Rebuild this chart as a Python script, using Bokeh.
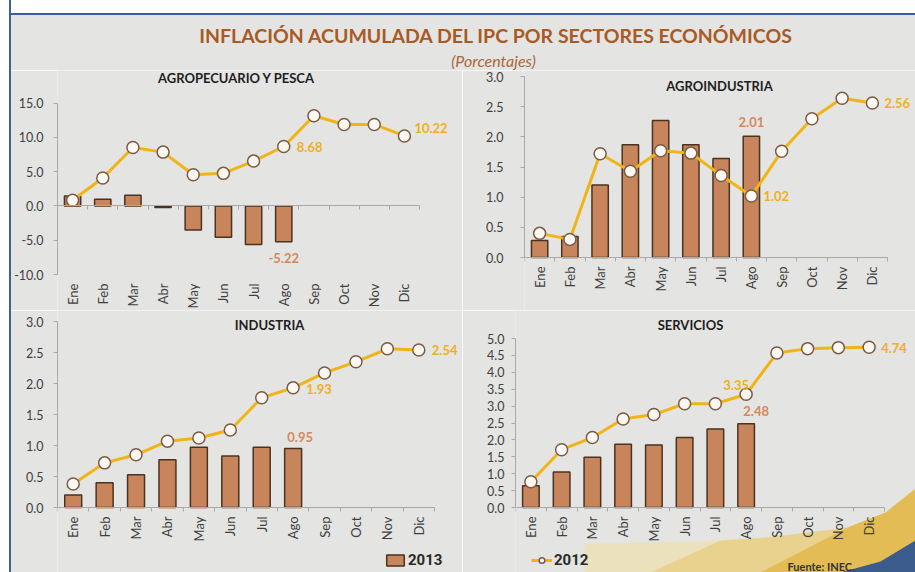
import math
from bokeh.plotting import figure
from bokeh.models import (Range1d, LinearAxis, FixedTicker, NumeralTickFormatter,
                          CustomJSTickFormatter, Label, Legend, LegendItem, PolyAnnotation,
                          InlineStyleSheet)
from bokeh.layouts import column, row
from bokeh.embed import file_html
from bokeh.resources import INLINE

# ---------------- data ----------------
months = ["Ene", "Feb", "Mar", "Abr", "May", "Jun", "Jul", "Ago", "Sep", "Oct", "Nov", "Dic"]

agro_2013 = [1.46, 0.97, 1.55, -0.24, -3.50, -4.56, -5.63, -5.22]
agro_2012 = [0.83, 4.08, 8.54, 7.86, 4.56, 4.76, 6.55, 8.68, 13.16, 11.90, 11.90, 10.22]

agroind_2013 = [0.28, 0.35, 1.20, 1.87, 2.27, 1.87, 1.64, 2.01]
agroind_2012 = [0.40, 0.30, 1.72, 1.43, 1.77, 1.73, 1.36, 1.02, 1.76, 2.30, 2.64, 2.56]

ind_2013 = [0.20, 0.40, 0.53, 0.77, 0.97, 0.83, 0.97, 0.95]
ind_2012 = [0.38, 0.72, 0.85, 1.07, 1.12, 1.25, 1.77, 1.93, 2.17, 2.35, 2.56, 2.54]

serv_2013 = [0.64, 1.05, 1.49, 1.87, 1.85, 2.07, 2.32, 2.48]
serv_2012 = [0.76, 1.71, 2.07, 2.62, 2.75, 3.07, 3.07, 3.35, 4.57, 4.70, 4.73, 4.74]

agro_ticks = [-10, -5, 0, 5, 10, 15]
agroind_ticks = [0, 0.5, 1.0, 1.5, 2.0, 2.5, 3.0]
ind_ticks = [0, 0.5, 1.0, 1.5, 2.0, 2.5, 3.0]
serv_ticks = [0, 0.5, 1.0, 1.5, 2.0, 2.5, 3.0, 3.5, 4.0, 4.5, 5.0]

series_names = ["2013", "2012"]
TITLE = "INFLACIÓN ACUMULADA DEL IPC POR SECTORES ECONÓMICOS"
SUBTITLE = "(Porcentajes)"
SOURCE = "Fuente: INEC."

# ---------------- style ----------------
BG = "#e4e4e2"
AXC = "#a9a9a9"
TICKC = "#3f3f3f"
BAR_FILL = "#c8845a"
BAR_LINE = "#4a3322"
GOLD = "#f0b416"
MK_FILL = "#fbf8f3"
MK_LINE = "#7a5c44"
LBL_GOLD = "#efb01e"
LBL_BROWN = "#d4895a"
FONT = "Lato"
FRAME_BLUE = "#3d5e9a"

n = len(months)
xc = [i + 0.5 for i in range(n)]           # category centres on the x scale
bounds_x = list(range(n + 1))               # category boundaries (tick marks)

SPLIT = 462                                 # x where the right-hand column starts


def make_panel(title, bars, line, yticks, fig_box, axis_px, tick_px, ystandoff, title_px, labels):
    fx, fy, fw, fh = fig_box                 # figure box in page pixels
    ax0, ax1 = axis_px                      # x pixel of category axis start / end
    pt_top, pt_bot = tick_px                 # y pixel of top / bottom y tick
    unit_x = (ax1 - ax0) / n
    x_end = (fx + fw - ax0) / unit_x
    k = (pt_bot - pt_top) / (yticks[-1] - yticks[0])
    y_end = yticks[-1] + (pt_top - fy) / k
    y_start = yticks[0] - (fy + fh - pt_bot) / k

    p = figure(width=fw, height=fh, x_range=Range1d(0, x_end), y_range=Range1d(y_start, y_end),
               output_backend="svg", toolbar_location=None,
               x_axis_location=None, y_axis_location=None,
               min_border_left=ax0 - fx, min_border_right=0, min_border_top=0, min_border_bottom=0)
    p.background_fill_color = BG
    p.border_fill_color = BG
    p.outline_line_color = None
    p.xgrid.grid_line_color = None
    p.ygrid.grid_line_color = None

    yax = LinearAxis(ticker=FixedTicker(ticks=yticks), formatter=NumeralTickFormatter(format="0.0"),
                     bounds=(yticks[0], yticks[-1]),
                     axis_line_color=AXC, major_tick_line_color=AXC, major_tick_in=0,
                     major_tick_out=4, minor_tick_line_color=None,
                     major_label_standoff=ystandoff, major_label_text_font=FONT,
                     major_label_text_font_size="12.5px", major_label_text_color=TICKC)
    p.add_layout(yax, "left")

    mfmt = CustomJSTickFormatter(args=dict(months=months), code="return months[Math.floor(tick)]")
    xax = LinearAxis(fixed_location=yticks[0], ticker=FixedTicker(ticks=xc), formatter=mfmt,
                     axis_line_color=None, major_tick_line_color=None,
                     minor_tick_line_color=None, major_tick_in=0, major_tick_out=0,
                     major_label_orientation=math.pi / 2, major_label_standoff=9,
                     major_label_text_font=FONT, major_label_text_font_size="13px",
                     major_label_text_color=TICKC)
    p.add_layout(xax, "below")

    zax = LinearAxis(fixed_location=0, ticker=FixedTicker(ticks=bounds_x), bounds=(0, n),
                     axis_line_color=AXC, major_tick_line_color=AXC, major_tick_in=0,
                     major_tick_out=4, minor_tick_line_color=None,
                     major_label_text_font_size="0px", major_label_text_color=None)
    p.add_layout(zax, "below")

    rb = p.vbar(x=xc[:len(bars)], top=bars, width=0.54, fill_color=BAR_FILL,
                line_color=BAR_LINE, line_width=1.5)
    rl = p.line(x=xc, y=line, line_color=GOLD, line_width=3)
    rs = p.scatter(x=xc, y=line, size=12, fill_color=MK_FILL, line_color=MK_LINE, line_width=1.5)

    tx, ty = title_px
    p.add_layout(Label(x=tx - ax0, y=fy + fh - ty, x_units="screen", y_units="screen",
                       text=title, text_align="center", text_baseline="middle",
                       text_font=FONT, text_font_style="bold", text_font_size="13px",
                       text_color="#1e1e1e"))

    for series, idx, dx, dy, align, color in labels:
        p.add_layout(Label(x=xc[idx], y=series[idx], text=f"{series[idx]:.2f}",
                           x_offset=dx, y_offset=dy, text_align=align, text_baseline="middle",
                           text_font=FONT, text_font_style="bold", text_font_size="13px",
                           text_color=color))
    return p, rb, rl, rs


p1, *_ = make_panel("AGROPECUARIO Y PESCA", agro_2013, agro_2012, agro_ticks,
                    (0, 70, SPLIT, 240), (57, 419), (102.7, 274), 10, (236, 77),
                    [(agro_2012, 11, 10, 8, "left", LBL_GOLD),
                     (agro_2012, 7, 13, 0, "left", LBL_GOLD),
                     (agro_2013, 7, 0, -16, "center", LBL_BROWN)])

p2, *_ = make_panel("AGROINDUSTRIA", agroind_2013, agroind_2012, agroind_ticks,
                    (SPLIT, 70, 915 - SPLIT, 240), (524, 887), (76, 257), 17, (719, 85),
                    [(agroind_2013, 7, 0, 14, "center", LBL_BROWN),
                     (agroind_2012, 7, 12, 0, "left", LBL_GOLD),
                     (agroind_2012, 11, 12, 0, "left", LBL_GOLD)])

p3, rb3, _, _ = make_panel("INDUSTRIA", ind_2013, ind_2012, ind_ticks,
                           (0, 310, SPLIT, 262), (57, 434), (321, 507), 10, (269, 324),
                           [(ind_2013, 7, 7, 12, "center", LBL_BROWN),
                            (ind_2012, 7, 13, -1, "left", LBL_GOLD),
                            (ind_2012, 11, 13, 0, "left", LBL_GOLD)])

p4, _, rl4, rs4 = make_panel("SERVICIOS", serv_2013, serv_2012, serv_ticks,
                             (SPLIT, 310, 915 - SPLIT, 262), (515, 884), (338, 507), 7, (690, 324),
                             [(serv_2012, 7, -10, 9, "center", LBL_GOLD),
                              (serv_2013, 7, 10, 13, "center", LBL_BROWN),
                              (serv_2012, 11, 12, -1, "left", LBL_GOLD)])

# decorative gold swoosh and blue corner at the bottom right (screen units of the panel)
P4_LEFT, P4_BOTTOM = 515, 572
swoosh_layers = [
    ([(584, 543), (640, 542), (700, 541), (766, 537), (847, 527), (885, 512), (915, 488),
      (915, 572), (584, 572)], "#ece1bd", 1.0),
    ([(650, 572), (720, 540), (766, 537), (847, 527), (885, 512), (915, 488), (915, 572)],
     "#e6c666", 0.55),
    ([(760, 572), (847, 527), (885, 512), (915, 488), (915, 572)], "#dfae30", 0.6),
    ([(840, 572), (880, 561), (915, 540), (915, 572)], "#3b5b8c", 1.0),
]
for pts, col, alpha in swoosh_layers:
    p4.add_layout(PolyAnnotation(xs=[x - P4_LEFT for x, _ in pts], ys=[P4_BOTTOM - y for _, y in pts],
                                 xs_units="screen", ys_units="screen", fill_color=col,
                                 fill_alpha=alpha, line_color=None, level="underlay"))

# legends (split between the two bottom panels, as in the original)
leg_kw = dict(border_line_color=None, background_fill_alpha=0, padding=0, margin=0,
              spacing=0, label_standoff=2, label_text_font="Roboto",
              label_text_font_style="bold", label_text_font_size="15px",
              label_text_color="#2a2a2a", label_height=16, glyph_height=14)
p3.add_layout(Legend(items=[LegendItem(label=series_names[0], renderers=[rb3])],
                     location=(384 - 57, 3), glyph_width=22, **leg_kw))
p4.add_layout(Legend(items=[LegendItem(label=series_names[1], renderers=[rl4, rs4])],
                     location=(531 - P4_LEFT, 3), glyph_width=21, **leg_kw))
p4.add_layout(Label(x=787 - P4_LEFT, y=P4_BOTTOM - 566, x_units="screen", y_units="screen",
                    text=SOURCE, text_align="left", text_baseline="middle", text_font=FONT,
                    text_font_style="bold", text_font_size="11px", text_color="#333333"))

# header
header = figure(width=915, height=70, x_range=Range1d(0, 1), y_range=Range1d(0, 1),
                output_backend="svg", toolbar_location=None, x_axis_location=None,
                y_axis_location=None, min_border=0)
header.background_fill_color = BG
header.border_fill_color = BG
header.outline_line_color = None
header.xgrid.grid_line_color = None
header.ygrid.grid_line_color = None
header.add_layout(Label(x=496, y=70 - 35, x_units="screen", y_units="screen", text=TITLE,
                        text_align="center", text_baseline="middle", text_font=FONT,
                        text_font_style="bold", text_font_size="19.5px", text_color="#a85a25"))
header.add_layout(Label(x=493, y=70 - 60, x_units="screen", y_units="screen", text=SUBTITLE,
                        text_align="center", text_baseline="middle", text_font=FONT,
                        text_font_style="italic", text_font_size="16px", text_color="#a8683c"))

frame_css = InlineStyleSheet(css=f"""
:host {{ position: relative; }}
:host::before {{ content: ""; position: absolute; left: 0; top: 0; width: 100%; height: 13px;
  background: #ffffff; border-bottom: 2px solid {FRAME_BLUE}; z-index: 20; pointer-events: none; }}
:host::after {{ content: ""; position: absolute; left: 0; top: 0; width: 9px; height: 100%;
  background: #ffffff; border-right: 2px solid {FRAME_BLUE}; z-index: 21; pointer-events: none; }}
""")

layout = column(header, row(p1, p2), row(p3, p4), stylesheets=[frame_css])

open("out.html", "w").write(file_html(layout, INLINE, "Inflación acumulada"))
